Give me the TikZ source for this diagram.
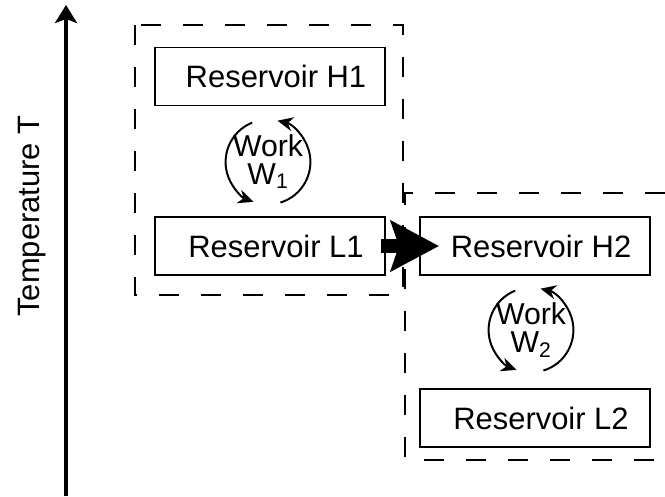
\documentclass[tikz,border=0pt]{standalone}
\usepackage{fontspec}
\setmainfont{Liberation Sans}
\usetikzlibrary{arrows.meta,positioning}

\begin{document}
\begin{tikzpicture}[x=0.025cm,y=0.025cm,
  res/.style={draw,line width=1.4pt,minimum width=5.75cm,minimum height=1.45cm,inner sep=0pt,font=\fontsize{22}{24}\selectfont,execute at begin node={\hspace*{3mm}}},
  work/.style={circle,minimum size=2.1cm,inner sep=0pt,align=center,font=\fontsize{21.5}{19.5}\selectfont},
  cyc/.style={line width=1.4pt,-{Stealth[length=11pt,width=10pt]}},
  zone/.style={line width=1pt,dash pattern=on 0.5cm off 0.55cm}]
\useasboundingbox (0,0) rectangle (665,496);
% temperature axis
\coordinate (tlo) at (66,0);
\coordinate (thi) at (66,491);
\draw[line width=3.5pt,-{Stealth[length=0.45cm,width=0.55cm,inset=0.1cm]}] (tlo) -- (thi);
\node[rotate=90,font=\fontsize{22}{24}\selectfont] (tlab) at (32,280) {Temperature T};

% first engine
\node[res] (h1) at (270,419.5) {Reservoir H1};
\node[res] (l1) at (270,250) {Reservoir L1};
\node[work] (w1) at (268,334) {Work\\W\textsubscript{1}};
\draw[cyc] (w1.center) ++(112:1.06cm) arc[start angle=112,end angle=250,radius=1.06cm];
\draw[cyc] (w1.center) ++(-73:1.06cm) arc[start angle=-73,end angle=77,radius=1.06cm];
\draw[zone] (135,471) rectangle (403,201);

% second engine
\node[res] (h2) at (535,250) {Reservoir H2};
\node[res] (l2) at (535,78) {Reservoir L2};
\node[work] (w2) at (531,166) {Work\\W\textsubscript{2}};
\draw[cyc] (w2.center) ++(112:1.06cm) arc[start angle=112,end angle=250,radius=1.06cm];
\draw[cyc] (w2.center) ++(-73:1.06cm) arc[start angle=-73,end angle=77,radius=1.06cm];
\draw[zone] (665,303) -- (405,303) -- (405,36) -- (665,36);

% heat passed from L1 to H2
\draw[line width=10.6pt,-{Stealth[length=1.2cm,width=1.25cm,inset=0.2cm]}] ([xshift=-0.12cm]l1.east) -- ([xshift=0.5cm]h2.west);
\end{tikzpicture}
\end{document}
